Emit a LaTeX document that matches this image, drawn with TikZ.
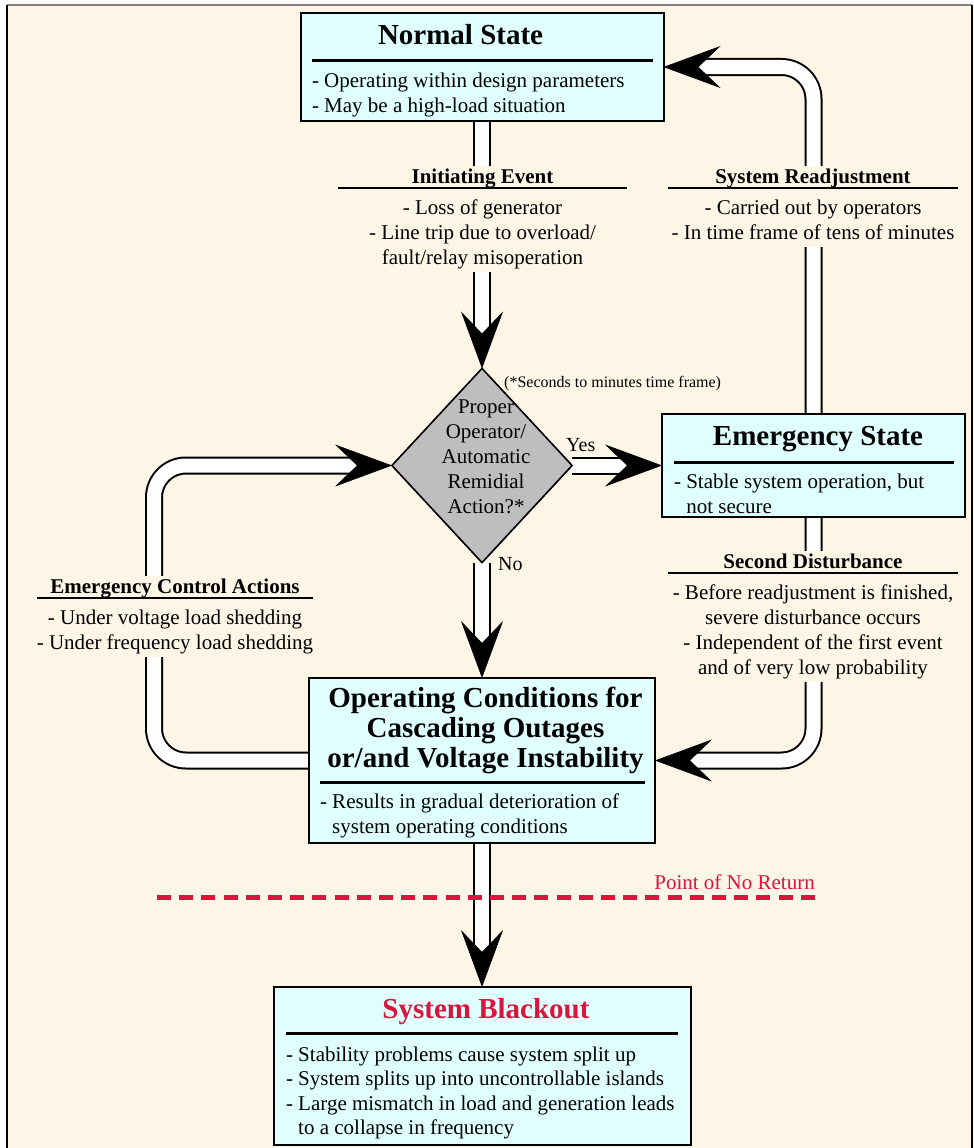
\documentclass[tikz,border=0pt]{standalone}
\usepackage{fontspec}
\setmainfont{Liberation Serif}
\usetikzlibrary{arrows.meta,shapes.geometric}

\definecolor{bgcream}{RGB}{253,245,230}
\definecolor{boxcyan}{RGB}{224,255,255}
\definecolor{diagray}{RGB}{190,190,190}
\definecolor{alertred}{RGB}{220,20,60}

\newcommand\ttlfont{\fontsize{29}{30}\selectfont\bfseries}
\newcommand\bdyfont{\fontsize{21}{25}\selectfont}
% one line of text, centred or flush left in the node width
\newcommand\cenl[1]{\hbox to\hsize{\hss#1\hss}}
\newcommand\lefl[1]{\hbox to\hsize{#1\hss}}
% leave the paragraph opened by the node and stack boxes from the very top
\newcommand\startv{\par\nointerlineskip}
% heading of a side label: bold line followed by a thin rule
\newcommand\lblhead[1]{\startv\cenl{\bfseries\strut #1}\vspace{-3.25pt}\hrule height 1.5pt\vspace{7.75pt}}

\tikzset{
  natural spaces/.style={execute at begin node={\spaceskip=0pt\xspaceskip=0pt\relax}},
  box/.style={draw, line width=2pt, fill=boxcyan, rectangle, inner sep=0pt, outer sep=0pt},
  boxtext/.style={inner sep=0pt, outer sep=0pt, anchor=north west, natural spaces},
  lbl/.style={inner sep=0pt, outer sep=0pt, anchor=north, fill=bgcream, text width=#1,
              font=\bdyfont, natural spaces},
  pipe/.style={line width=2pt, double=white, double distance=14pt, rounded corners=32pt, shorten >=35pt},
  tipst/.style={white, line width=0.5pt, -{Stealth[black, length=57pt, width=42pt, inset=22pt]}},
}

\begin{document}
\begin{tikzpicture}[x=1pt,y=-1pt]
\useasboundingbox (0,0) rectangle (974,1148);
\fill[white] (0,0) rectangle (974,1148);
\fill[bgcream] (7,5) rectangle (972,1170);
\draw[gray, line width=1.5pt] (7,5) -- (972,5);
\draw[line width=2.5pt] (7,1170) -- (7,5) (972,5) -- (972,1170);

% ---- shapes (empty nodes, texts placed separately) ----
\node[box, minimum width=363pt, minimum height=108pt] (normal) at (482,67) {};
\node[box, minimum width=303pt, minimum height=103pt] (emerg) at (813.5,465.5) {};
\node[box, minimum width=346pt, minimum height=165pt] (oper) at (482,760.5) {};
\node[box, minimum width=417pt, minimum height=158pt] (blackout) at (482,1066) {};
\node[diamond, draw, line width=1.5pt, fill=diagray, inner sep=0pt, outer sep=0pt,
      minimum width=180pt, minimum height=194pt] (diam) at (482,465.5) {};

% ---- pipes ----
\draw[pipe] (normal.south) -- (diam.north);
\draw[pipe] (diam.east) -- (emerg.west);
\draw[pipe] (diam.south) -- (oper.north);
\draw[pipe] (emerg.north) |- (normal.east);
\draw[pipe] (emerg.south) |- (oper.east);
\draw[pipe] (oper.west) -- ++(-155,0) |- (diam.west);
\draw[pipe] (oper.south) -- (blackout.north);

% ---- boxes redrawn on top of pipe ends ----
\node[box, minimum width=363pt, minimum height=108pt] at (normal) {};
\node[box, minimum width=303pt, minimum height=103pt] at (emerg) {};
\node[box, minimum width=346pt, minimum height=165pt] at (oper) {};
\node[box, minimum width=417pt, minimum height=158pt] at (blackout) {};
\node[diamond, draw, line width=1.5pt, fill=diagray, inner sep=0pt, outer sep=0pt,
      minimum width=180pt, minimum height=194pt] at (diam) {};

% ---- box texts ----
\node[boxtext, text width=341pt] (normaltxt) at (312,24) {%
  \startv{\ttlfont\lefl{\hspace{66pt}\strut Normal State}}%
  \vspace{5.5pt}\hrule height 3pt\vspace{8pt}%
  {\bdyfont\lefl{\strut - Operating within design parameters}%
   \lefl{\strut - May be a high-load situation}}};

\node[boxtext, text width=280pt] (emergtxt) at (674,424) {%
  \startv{\ttlfont\cenl{\hspace{8pt}\strut Emergency State}}%
  \vspace{6.5pt}\hrule height 3pt\vspace{7pt}%
  {\bdyfont\lefl{\strut - Stable system operation, but}%
   \lefl{\strut\hphantom{-} not secure}}};

\node[boxtext, text width=325pt] (opertxt) at (320,686) {%
  \startv{\ttlfont\cenl{\hspace{6pt}\strut Operating Conditions for}%
   \cenl{\hspace{6pt}\strut Cascading Outages}%
   \cenl{\hspace{6pt}\strut or/and Voltage Instability}}%
  \vspace{4.5pt}\hrule height 3pt\vspace{7pt}%
  {\bdyfont\lefl{\strut - Results in gradual deterioration of}%
   \lefl{\strut\hphantom{-} system operating conditions}}};

\node[boxtext, text width=392pt] (blackouttxt) at (286,997) {%
  \startv{\ttlfont\color{alertred}\cenl{\hspace{8pt}\strut System Blackout}}%
  \vspace{4.5pt}\hrule height 3pt\vspace{10pt}%
  {\fontsize{21}{24.4}\selectfont
   \lefl{\strut - Stability problems cause system split up}%
   \lefl{\strut - System splits up into uncontrollable islands}%
   \lefl{\strut - Large mismatch in load and generation leads}%
   \lefl{\strut\hphantom{-} to a collapse in frequency}}};

\node[inner sep=0pt, outer sep=0pt, anchor=north, text width=140pt, natural spaces,
      font=\fontsize{21}{25}\selectfont] (diamtxt) at (486,395.5) {%
  \startv\cenl{\strut Proper}\cenl{\strut Operator/}\cenl{\strut Automatic}%
  \cenl{\strut Remidial}\cenl{\strut Action?*}};

% ---- side labels (they hide the pipes behind them) ----
\node[lbl=289pt] (initlbl) at (482.5,165.5) {%
  \lblhead{Initiating Event}%
  \cenl{\strut - Loss of generator}\cenl{\strut - Line trip due to overload/}%
  \cenl{\strut fault/relay misoperation}};

\node[lbl=290pt] (readjlbl) at (813,165.5) {%
  \lblhead{System Readjustment}%
  \cenl{\strut - Carried out by operators}\cenl{\strut - In time frame of tens of minutes}};

\node[lbl=290pt] (seclbl) at (813,550.5) {%
  \lblhead{Second Disturbance}%
  \cenl{\strut - Before readjustment is finished,}\cenl{\strut severe disturbance occurs}%
  \cenl{\strut - Independent of the first event}\cenl{\strut and of very low probability}};

\node[lbl=276pt] (ctrllbl) at (175,575.5) {%
  \lblhead{Emergency Control Actions}%
  \cenl{\strut - Under voltage load shedding}\cenl{\strut - Under frequency load shedding}};

% ---- small annotations ----
\node[inner sep=0pt, anchor=base west, font=\fontsize{20}{24}\selectfont] (yes) at (566,451) {Yes};
\node[inner sep=0pt, anchor=base west, font=\fontsize{20}{24}\selectfont] (no) at (498,570) {No};
\node[inner sep=0pt, anchor=base west, font=\fontsize{16}{19}\selectfont] (note) at (504,387)
  {(*Seconds to minutes time frame)};

% ---- point of no return ----
\coordinate (pnrL) at (157,897);
\coordinate (pnrR) at (815,897);
\draw[alertred, line width=5pt, dash pattern=on 14pt off 8.2pt] (pnrL) -- (pnrR);
\node[inner sep=0pt, anchor=base east, text=alertred, font=\fontsize{21}{25}\selectfont] (pnr) at (815,889)
  {Point of No Return};

% ---- arrow heads ----
\draw[tipst] ([yshift=57pt]diam.north) -- (diam.north);
\draw[tipst] ([xshift=-57pt]emerg.west) -- (emerg.west);
\draw[tipst] ([yshift=57pt]oper.north) -- (oper.north);
\draw[tipst] ([xshift=57pt]normal.east) -- (normal.east);
\draw[tipst] ([xshift=57pt]oper.east) -- (oper.east);
\draw[tipst] ([xshift=-57pt]diam.west) -- (diam.west);
\draw[tipst] ([yshift=57pt]blackout.north) -- (blackout.north);
\end{tikzpicture}
\end{document}
